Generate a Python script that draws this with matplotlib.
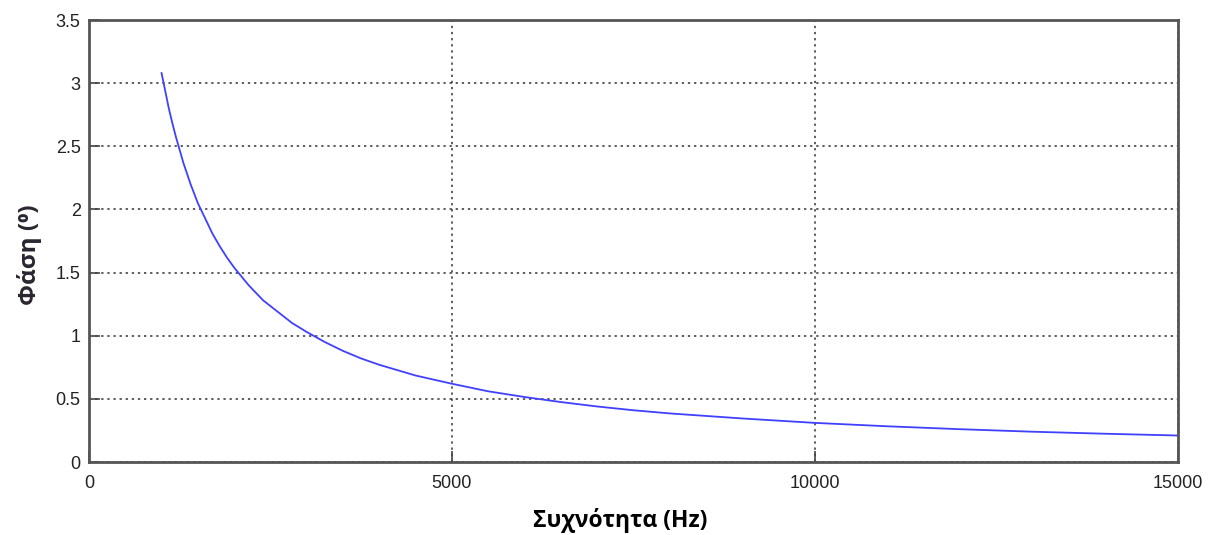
import matplotlib.pyplot as plt
import numpy as np

# frequency (Hz) and phase
freq = [1000, 1050, 1100, 1150, 1200, 1250, 1300, 1400, 1500, 1600, 1700, 1800,
        1900, 2000, 2100, 2200, 2400, 2600, 2800, 3000, 3250, 3500, 3750, 4000,
        4500, 5000, 5500, 6000, 6500, 7000, 7500, 8000, 9000, 10000, 11000,
        12000, 13000, 14000, 15000]
phase = [3.08, 2.94, 2.80, 2.68, 2.57, 2.47, 2.37, 2.20, 2.05, 1.93, 1.81, 1.71,
         1.62, 1.54, 1.47, 1.40, 1.28, 1.19, 1.10, 1.03, 0.95, 0.88, 0.82, 0.77,
         0.685, 0.62, 0.56, 0.515, 0.475, 0.44, 0.41, 0.385, 0.345, 0.31, 0.283,
         0.26, 0.24, 0.224, 0.21]

xticks = [0, 5000, 10000, 15000]
yticks = [0, 0.5, 1, 1.5, 2, 2.5, 3, 3.5]

fig = plt.figure(figsize=(12.14, 5.35), dpi=100)
ax = fig.add_axes([0.0733, 0.1364, 0.8967, 0.8262])

ax.plot(freq, phase, color='#4040ff', lw=1.3)

ax.set_xlim(0, 15000)
ax.set_ylim(0, 3.5)
ax.set_xticks(xticks)
ax.set_yticks(yticks)
ax.set_xticklabels([str(t) for t in xticks])
ax.set_yticklabels(['0', '0.5', '1', '1.5', '2', '2.5', '3', '3.5'])
ax.grid(True, color='#333333', linestyle=(0, (1.5, 2.5)), lw=1.1)
ax.tick_params(direction='in', length=8, width=1.2, colors='#444444',
               labelsize=13, labelcolor='#222222', pad=6)
ax.tick_params(axis='x', pad=9)
for lbl in ax.get_xticklabels() + ax.get_yticklabels():
    lbl.set_family('Liberation Sans')
for s in ax.spines.values():
    s.set_color('#555555')
    s.set_linewidth(2)

ax.set_xlabel('Συχνότητα (Hz)', fontsize=16.5, fontweight='bold',
              family='Open Sans')
ax.xaxis.set_label_coords(0.488, -0.103)
ax.set_ylabel('Φάση (⁰)', fontsize=17.5, fontweight='bold', family='Open Sans',
              color='#2a2530')
ax.yaxis.set_label_coords(-0.043, 0.47)

fig.savefig('out.png', dpi=100)
